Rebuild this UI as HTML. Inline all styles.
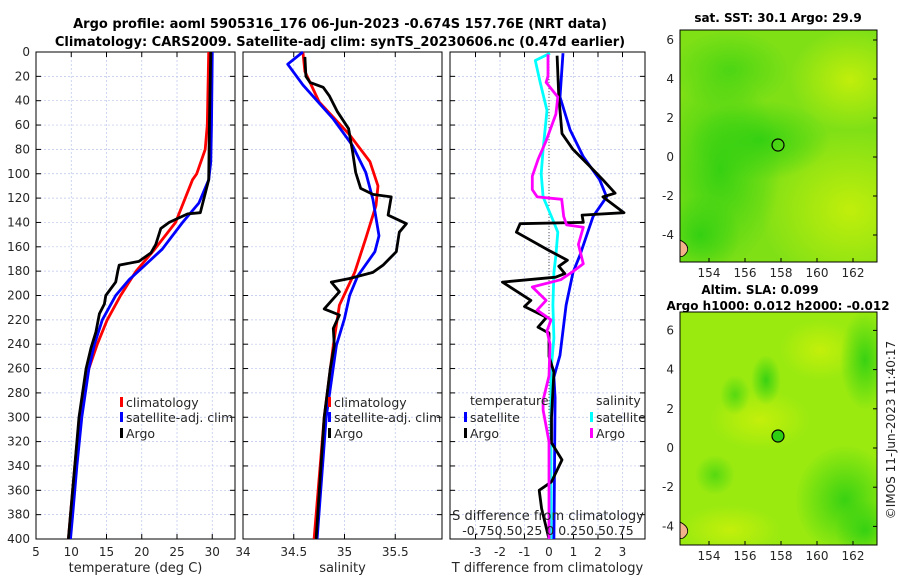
<!DOCTYPE html>
<html><head><meta charset="utf-8"><style>
body{margin:0;background:#fff;}
svg{display:block;font-family:"DejaVu Sans","Liberation Sans",sans-serif;}
</style></head><body>
<svg id="c" width="900" height="580" xmlns="http://www.w3.org/2000/svg">
<defs>
<radialGradient id="dk" cx="50%" cy="50%" r="50%"><stop offset="0" stop-color="#2ecf12" stop-opacity="0.9"/><stop offset="1" stop-color="#2ecf12" stop-opacity="0"/></radialGradient>
<radialGradient id="yl" cx="50%" cy="50%" r="50%"><stop offset="0" stop-color="#c8f00a" stop-opacity="0.9"/><stop offset="1" stop-color="#c8f00a" stop-opacity="0"/></radialGradient>
<clipPath id="c1"><rect x="680" y="30" width="197" height="232"/></clipPath>
<clipPath id="c2"><rect x="680" y="312" width="197" height="233"/></clipPath>
</defs>
<text x="340" y="28" font-size="13" font-weight="bold" text-anchor="middle">Argo profile: aoml 5905316_176 06-Jun-2023 -0.674S 157.76E (NRT data)</text>
<text x="340" y="46" font-size="13" font-weight="bold" text-anchor="middle">Climatology: CARS2009. Satellite-adj clim: synTS_20230606.nc (0.47d earlier)</text>
<g id="p1"></g>
<g id="p2"></g>
<g id="p3"></g>
<g id="m1">
<g clip-path="url(#c1)">
<rect x="680" y="30" width="197" height="232" fill="#80e016"/>
<ellipse cx="850" cy="210" rx="90" ry="80" fill="url(#yl)"/>
<ellipse cx="850" cy="80" rx="60" ry="50" fill="url(#yl)"/>
<ellipse cx="720" cy="170" rx="60" ry="100" fill="url(#dk)"/>
<ellipse cx="760" cy="140" rx="70" ry="40" fill="url(#dk)"/>
<ellipse cx="730" cy="70" rx="60" ry="40" fill="url(#dk)" opacity="0.7"/>
<ellipse cx="700" cy="235" rx="40" ry="40" fill="url(#dk)"/>
<path d="M680,240 Q690,245 687,252 Q683,258 680,256 Z" fill="#f2b38a" stroke="#000" stroke-width="0.8"/>
</g>
<circle cx="778" cy="145" r="6" fill="none" stroke="#000" stroke-width="1.2"/>
<text x="778" y="22" font-size="12" font-weight="bold" text-anchor="middle">sat. SST: 30.1 Argo: 29.9</text>
</g>
<g id="m2">
<g clip-path="url(#c2)">
<rect x="680" y="312" width="197" height="233" fill="#9aea10"/>
<ellipse cx="820" cy="350" rx="40" ry="30" fill="url(#yl)"/>
<ellipse cx="760" cy="420" rx="50" ry="30" fill="url(#yl)"/>
<ellipse cx="730" cy="530" rx="50" ry="25" fill="url(#yl)"/>
<ellipse cx="845" cy="500" rx="50" ry="55" fill="url(#dk)"/>
<ellipse cx="865" cy="530" rx="30" ry="30" fill="url(#dk)"/>
<ellipse cx="766" cy="380" rx="15" ry="25" fill="url(#dk)"/>
<ellipse cx="865" cy="360" rx="25" ry="50" fill="url(#dk)"/>
<ellipse cx="735" cy="395" rx="15" ry="20" fill="url(#dk)" opacity="0.7"/>
<ellipse cx="715" cy="475" rx="20" ry="20" fill="url(#dk)" opacity="0.7"/>
<path d="M680,522 Q690,527 687,534 Q683,540 680,538 Z" fill="#f2b38a" stroke="#000" stroke-width="0.8"/>
</g>
<circle cx="778" cy="436" r="6" fill="#2ecf12" stroke="#000" stroke-width="1.2"/>
<text x="760" y="294" font-size="12" font-weight="bold" text-anchor="middle">Altim. SLA: 0.099</text>
<text x="778" y="310" font-size="12" font-weight="bold" text-anchor="middle">Argo h1000: 0.012 h2000: -0.012</text>
</g>
<text transform="translate(895,430) rotate(-90)" font-size="12" text-anchor="middle" fill="#222">©IMOS 11-Jun-2023 11:40:17</text>
</svg>
<script>
const NS="http://www.w3.org/2000/svg";
// ---- data ----
const tClimDepth=[0,60,80,100,105,140,163,180,200,220,240,260,300,340,380,400];
const tClimVal=[29.5,29.3,29.0,27.8,27.2,24.8,21.7,19.2,17.0,15.1,13.7,12.5,11.2,10.5,9.9,9.6];
const tSatDepth=[0,60,90,105,124,140,162,177,187,200,220,240,260,300,340,380,400];
const tSatVal=[30.0,29.9,29.8,29.5,28.1,25.8,22.9,20.1,18.2,16.3,14.4,13.3,12.5,11.5,10.8,10.2,9.9];
const tArgoDepth=[0,60,105,132,133,140,145,158,165,172,175,180,189,200,207,215,230,243,260,300,340,380,400];
const tArgoVal=[29.8,29.6,29.5,28.3,26.5,23.9,22.7,22.0,21.3,19.6,16.8,16.6,16.3,14.9,14.7,14.0,13.5,12.8,12.1,11.1,10.5,9.9,9.6];
const sClimDepth=[0,16,41,68,90,110,126,153,181,208,241,300,400];
const sClimVal=[34.59,34.61,34.75,35.05,35.25,35.33,35.31,35.21,35.1,34.95,34.89,34.8,34.7];
const sSatDepth=[0,10,27,55,77,99,121,151,164,184,200,219,241,300,400];
const sSatVal=[34.59,34.44,34.59,34.89,35.08,35.21,35.28,35.34,35.3,35.13,35.05,35.0,34.92,34.82,34.73];
const sArgoDepth=[4,20,25,29,36,49,63,82,99,112,117,119,134,141,148,164,175,181,186,189,197,211,216,227,241,260,300,400];
const sArgoVal=[34.61,34.62,34.66,34.79,34.85,34.93,35.04,35.08,35.11,35.16,35.28,35.46,35.43,35.61,35.54,35.51,35.38,35.28,35.05,34.87,34.95,34.8,34.95,34.89,34.9,34.86,34.8,34.72];
const dTArgoDepth=[3,37,67,80,94,105,116,119,132,134,140,141,148,163,171,176,182,185,189,204,209,218,226,231,250,263,300,321,335,353,360,375,400];
const dTArgoVal=[0.33,0.4,0.53,0.98,1.67,2.2,2.7,2.2,3.06,1.35,1.4,-1.18,-1.33,0.0,0.75,0.4,0.65,0.27,-1.9,-0.74,-1.0,-0.1,-0.45,0.0,0.0,0.2,0.1,0.1,0.53,0.1,-0.4,-0.3,0.0];
const dTSatDepth=[1,37,64,86,105,119,135,167,181,208,249,267,284,400];
const dTSatVal=[0.57,0.45,0.86,1.4,2.07,2.35,1.8,1.26,0.98,0.7,0.45,0.2,0.25,0.2];
const dSArgoDepth=[2,20,25,37,51,73,88,102,113,119,121,135,142,144,158,174,180,187,193,204,212,220,229,240,266,286,294,320,400];
const dSArgoVal=[-0.01,-0.01,-0.03,0.09,0.07,-0.03,-0.11,-0.17,-0.17,-0.12,0.13,0.15,0.18,0.35,0.3,0.35,0.25,0.12,-0.17,-0.03,-0.12,0.02,-0.02,0.01,0.0,-0.06,-0.06,0.0,0.0];
const dSSatDepth=[1,7,25,48,80,100,119,138,148,167,181,208,235,262,400];
const dSSatVal=[0.01,-0.14,-0.09,-0.02,-0.06,-0.08,-0.06,0.04,0.09,0.07,0.05,0.04,0.05,0.02,0.02];
const depthTicks=[0,20,40,60,80,100,120,140,160,180,200,220,240,260,280,300,320,340,360,380,400];
const tTicks=[5,10,15,20,25,30];
const sTicks=[34,34.5,35,35.5];
const dTicks=[-3,-2,-1,0,1,2,3];
const lonTicks=[154,156,158,160,162];
const latTicks=[6,4,2,0,-2,-4];
// ---- axes ----
const Y0=52,Y1=539;
const yD=d=>Y0+(d/400)*(Y1-Y0);
const xT=v=>36+(v-5)*7.05;
const xS=v=>243+(v-34)*101.5;
const xDT=v=>549+v*24.5;
const xDS=v=>xDT(v*4);
function el(tag,attrs,parent){const e=document.createElementNS(NS,tag);for(const k in attrs)e.setAttribute(k,attrs[k]);parent.appendChild(e);return e;}
function txt(x,y,s,parent,size,anchor){const t=el('text',{x:x,y:y,'font-size':size||12,'text-anchor':anchor||'middle',fill:'#262626'},parent);t.textContent=s;return t;}
function panel(g,x0,x1,xf,xticks,xlab,labelFmt){
  for(const d of depthTicks){const l=el('line',{x1:x0,x2:x1,y1:yD(d),y2:yD(d),stroke:'#b8c4ea','stroke-width':0.7,'stroke-dasharray':'2,2'},g);
    
    
    el('line',{x1:x0,x2:x0+5,y1:yD(d),y2:yD(d),stroke:'#000'},g);el('line',{x1:x1-5,x2:x1,y1:yD(d),y2:yD(d),stroke:'#000'},g);}
  for(const v of xticks){const x=xf(v);const l=el('line',{x1:x,x2:x,y1:Y0,y2:Y1,stroke:'#b8c4ea','stroke-width':0.7,'stroke-dasharray':'2,2'},g);
    
    
    el('line',{x1:x,x2:x,y1:Y1,y2:Y1-5,stroke:'#000'},g);el('line',{x1:x,x2:x,y1:Y0,y2:Y0+5,stroke:'#000'},g);
    const t=txt(x,556,labelFmt?labelFmt(v):String(v),g,12);
    
    }
  const r=el('rect',{x:x0,y:Y0,width:x1-x0,height:Y1-Y0,fill:'none',stroke:'#000','stroke-width':1},g);
  
  
  const t=txt((x0+x1)/2,572,xlab,g,13);
  
  
}
function line(g,dep,val,xf,col,name,w){
  const p=el('polyline',{points:dep.map((d,i)=>xf(val[i]).toFixed(1)+','+yD(d).toFixed(1)).join(' '),fill:'none',stroke:col,'stroke-width':w||2.8,'stroke-linejoin':'round'},g);
  
  
}
function leg(g,x,y,col,label){
  const r=el('rect',{x:x,y:y-10,width:3,height:10,fill:col},g);
  
  
  const t=txt(x+6,y,label,g,12.5,'start');
  
  
}
const p1=document.getElementById('p1'),p2=document.getElementById('p2'),p3=document.getElementById('p3');
for(const d of depthTicks){const t=txt(30,yD(d)+4,String(d),p1,12,'end');
  
  }
panel(p1,36,235,xT,tTicks,'temperature (deg C)');
line(p1,tClimDepth,tClimVal,xT,'#ff0000','temp-climatology-line');
line(p1,tSatDepth,tSatVal,xT,'#0000ff','temp-satellite-line');
line(p1,tArgoDepth,tArgoVal,xT,'#000000','temp-argo-line');
leg(p1,120,407,'#ff0000','climatology');leg(p1,120,422,'#0000ff','satellite-adj. clim');leg(p1,120,438,'#000','Argo');
panel(p2,243,442,xS,sTicks,'salinity');
line(p2,sClimDepth,sClimVal,xS,'#ff0000','sal-climatology-line');
line(p2,sSatDepth,sSatVal,xS,'#0000ff','sal-satellite-line');
line(p2,sArgoDepth,sArgoVal,xS,'#000000','sal-argo-line');
leg(p2,328,407,'#ff0000','climatology');leg(p2,328,422,'#0000ff','satellite-adj. clim');leg(p2,328,438,'#000','Argo');
panel(p3,450,645,xDT,dTicks,'T difference from climatology',v=>v<0?'-'+(-v):String(v));
el('line',{x1:xDT(0),x2:xDT(0),y1:Y0,y2:Y1,stroke:'#555','stroke-dasharray':'1,2'},p3);
line(p3,dSSatDepth,dSSatVal,xDS,'#00ffff','sal-diff-satellite-line');
line(p3,dTSatDepth,dTSatVal,xDT,'#0000ff','temp-diff-satellite-line');
line(p3,dTArgoDepth,dTArgoVal,xDT,'#000000','temp-diff-argo-line');
line(p3,dSArgoDepth,dSArgoVal,xDS,'#ff00ff','sal-diff-argo-line');
txt(470,405,'temperature',p3,12.5,'start');txt(596,405,'salinity',p3,12.5,'start');
leg(p3,464,422,'#0000ff','satellite');leg(p3,464,438,'#000','Argo');
leg(p3,590,422,'#00ffff','satellite');leg(p3,590,438,'#ff00ff','Argo');
const s1=txt(548,520,'S difference from climatology',p3,13);


const s2=txt(548,535,'-0.750.50.25 0  0.250.50.75',p3,12.5);


function mapAxes(gid,top,bot,latY0,latStep){
  const g=document.getElementById(gid);
  el('rect',{x:680,y:top,width:197,height:bot-top,fill:'none',stroke:'#000'},g);
  for(const lo of lonTicks){const x=709+(lo-154)*18;el('line',{x1:x,x2:x,y1:bot,y2:bot-4,stroke:'#000'},g);
    const t=txt(x,bot+15,String(lo),g,12);
    
    }
  for(const la of latTicks){const y=latY0-la*latStep;el('line',{x1:877,x2:873,y1:y,y2:y,stroke:'#000'},g);
    const t=txt(674,y+4,String(la),g,12,'end');
    
    }
}
mapAxes('m1',30,262,157,19.5);
mapAxes('m2',312,545,448,19.6);
</script>
</body></html>
